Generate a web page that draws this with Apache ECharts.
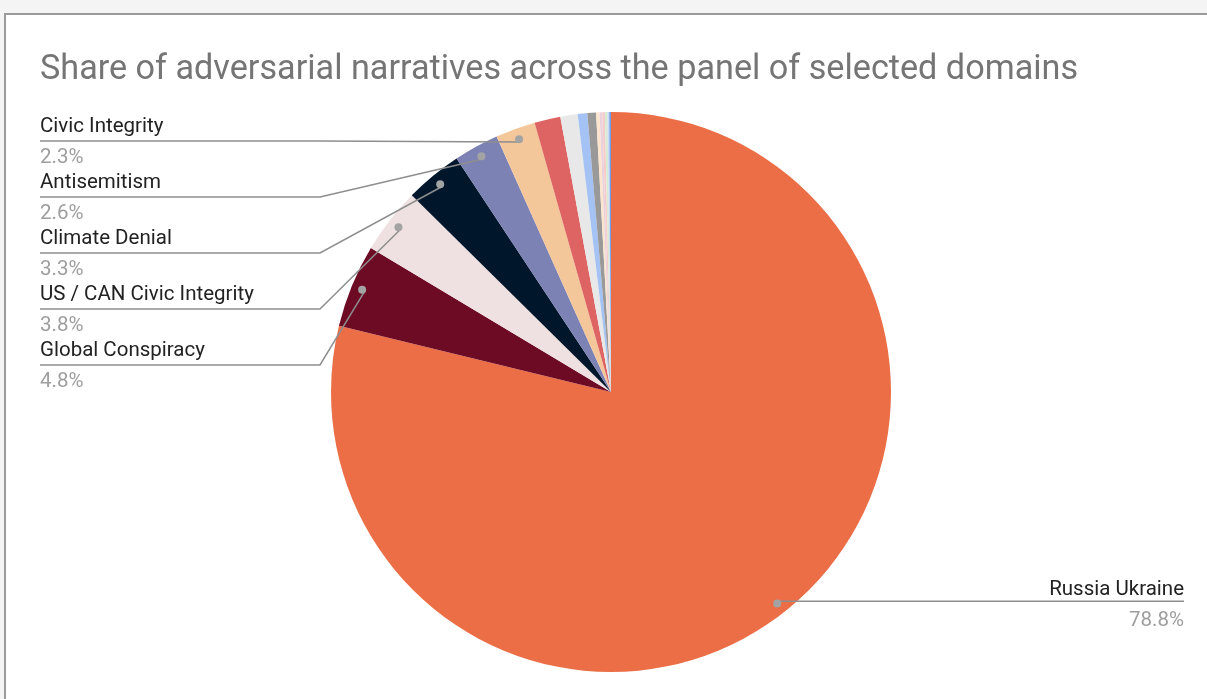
<!DOCTYPE html>
<html>
<head>
<meta charset="utf-8">
<script src="https://cdn.jsdelivr.net/npm/echarts@6/dist/echarts.min.js"></script>
<style>
html, body { margin: 0; padding: 0; background: #f4f4f4; overflow: hidden; }
#card { position: absolute; left: 4px; top: 13px; width: 1230px; height: 720px; background: #fff; border: 2px solid #9a9a9a; box-sizing: border-box; }
#chart { position: absolute; left: 0; top: 0; width: 1207px; height: 699px; }
</style>
</head>
<body>
<div id="card"></div>
<div id="chart"></div>
<script>
// 叙事名称(小扇区在原图中没有标签)
var names = ['Russia Ukraine', 'Global Conspiracy', 'US / CAN Civic Integrity', 'Climate Denial',
	'Antisemitism', 'Civic Integrity', 'Other 1', 'Other 2', 'Other 3', 'Other 4',
	'Other 5', 'Other 6', 'Other 7', 'Other 8', 'Other 9', 'Other 10'];
// 占比 %
var shares = [78.8, 4.8, 3.8, 3.3, 2.6, 2.3, 1.5, 1.0, 0.55, 0.5, 0.2, 0.15, 0.15, 0.15, 0.1, 0.1];
var colors = ['#eb6e47', '#6d0a24', '#efe1e1', '#00172b', '#7d82b5', '#f4c79b', '#de6464', '#e8e8e8',
	'#a4c2f4', '#999999', '#fce5cd', '#ead1dc', '#f4cccc', '#d9ead3', '#c9daf8', '#6d9eeb'];
// 带标签的扇区
var labeledRight = ['Russia Ukraine'];
var labeledLeft = ['Civic Integrity', 'Antisemitism', 'Climate Denial', 'US / CAN Civic Integrity', 'Global Conspiracy'];

var pieCenter = [611, 392];
var pieRadius = 280;
var leftX = 40, bendX = 320, rightX = 1184; // 标签线端点
var firstRowY = 141, rowGap = 56; // 左侧标签行

var myChart = echarts.init(document.getElementById('chart'));

var isLabeled = function(name) {
	return labeledLeft.indexOf(name) >= 0 || labeledRight.indexOf(name) >= 0;
};

// 组装扇区数据,transparent 为 true 时只用于标签/圆点
var packageData = function(transparent) {
	var data = [];
	for (var i = 0; i < names.length; i++) {
		var item = {
			name: names[i],
			value: shares[i],
			itemStyle: { color: transparent ? 'rgba(0,0,0,0)' : colors[i] }
		};
		if (!transparent || !isLabeled(names[i])) {
			item.label = { show: false };
			item.labelLine = { show: false };
		}
		data.push(item);
	}
	return data;
};

var baseSeries = function() {
	return {
		type: 'pie',
		center: pieCenter,
		radius: pieRadius,
		startAngle: 90,
		clockwise: true,
		avoidLabelOverlap: false,
		silent: true,
		itemStyle: { borderWidth: 0 },
		emphasis: { disabled: true }
	};
};

var mainSeries = baseSeries();
mainSeries.name = 'share';
mainSeries.label = { show: false };
mainSeries.labelLine = { show: false };
mainSeries.data = packageData(false);

var labelSeries = baseSeries();
labelSeries.name = 'labels';
labelSeries.z = 3;
labelSeries.label = {
	position: 'outer',
	formatter: function(p) {
		return '{n|' + p.name + '}\n{v|' + p.percent.toFixed(1) + '%}';
	},
	rich: {
		n: { fontFamily: 'Roboto', fontSize: 20.5, color: '#222222', lineHeight: 34 },
		v: { fontFamily: 'Roboto', fontSize: 20.5, color: '#9e9e9e', lineHeight: 28 }
	}
};
labelSeries.labelLine = {
	show: true,
	length: 10,
	length2: 10,
	lineStyle: { color: '#8e8e8e', width: 1.5 }
};
labelSeries.labelLayout = function(params) {
	var pts = params.labelLinePoints;
	if (!pts) return {};
	var dx = pts[1][0] - pts[0][0], dy = pts[1][1] - pts[0][1];
	var len = Math.sqrt(dx * dx + dy * dy) || 1;
	// 起点移到扇区内的圆点处
	var dot = [pts[0][0] - dx / len * 14, pts[0][1] - dy / len * 14];
	var k = labeledLeft.indexOf(names[params.dataIndex]);
	if (k >= 0) {
		var y = firstRowY + rowGap * k;
		return {
			x: leftX, y: y, align: 'left', verticalAlign: 'middle',
			labelLinePoints: [dot, [bendX, y], [leftX, y]]
		};
	}
	return {
		x: rightX, y: dot[1] + 3, align: 'right', verticalAlign: 'middle',
		labelLinePoints: [dot, [(dot[0] + rightX) / 2, dot[1]], [rightX, dot[1]]]
	};
};
labelSeries.data = packageData(true);

var dotSeries = baseSeries();
dotSeries.name = 'dots';
dotSeries.z = 4;
dotSeries.radius = [pieRadius - 28, pieRadius];
dotSeries.label = {
	position: 'inside',
	formatter: '{d|}',
	rich: {
		d: { width: 8, height: 8, borderRadius: 4, backgroundColor: '#a3a3a3' }
	}
};
dotSeries.labelLine = { show: false };
dotSeries.data = packageData(true);

option = {
	animation: false,
	title: {
		text: 'Share of adversarial narratives across the panel of selected domains',
		left: 35,
		top: 48,
		textStyle: {
			fontFamily: 'Roboto',
			fontSize: 34.2,
			fontWeight: 'normal',
			color: '#757575'
		}
	},
	series: [mainSeries, labelSeries, dotSeries]
};
myChart.setOption(option);
</script>
</body>
</html>
